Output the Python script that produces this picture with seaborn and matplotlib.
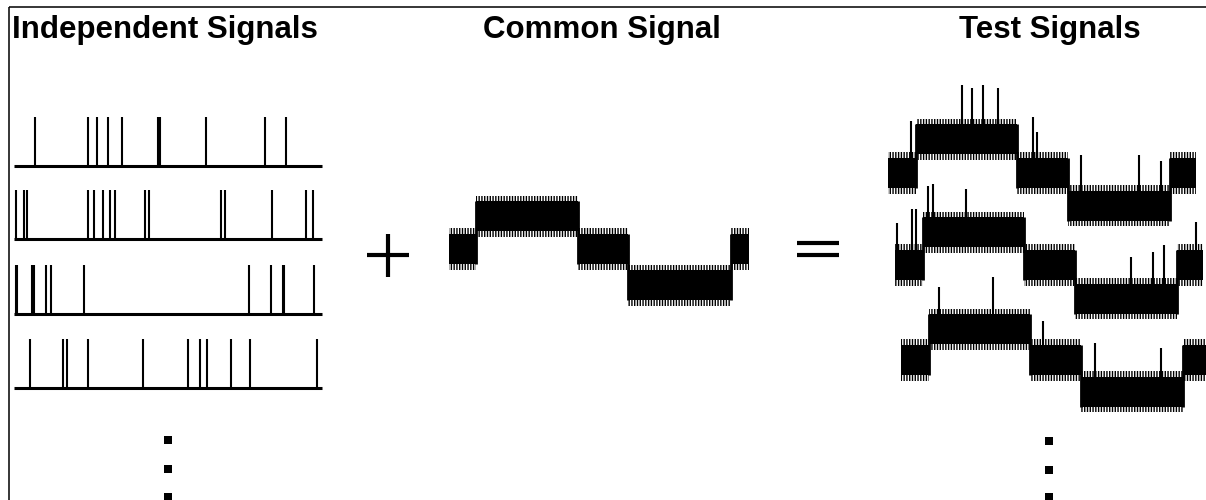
import numpy as np
import matplotlib
matplotlib.use("Agg")
import matplotlib.pyplot as plt
import seaborn as sns
import pandas as pd

# ---------------- data ----------------
# independent spike trains: spike times in samples, amplitude 1.0
indep_spikes_1 = [21, 74, 83, 94, 108, 144, 146, 192, 251, 272]
indep_spikes_2 = [2, 10, 13, 74, 80, 89, 96, 101, 131, 135, 207, 211, 258, 292, 299]
indep_spikes_3 = [2, 3, 18, 20, 32, 37, 70, 235, 257, 269, 270, 300]
indep_spikes_4 = [16, 49, 53, 74, 129, 174, 186, 193, 217, 236, 303]
indep_length = 308

# common signal: piecewise-constant level (segment edges in samples)
common_edges = [0, 27, 129, 179, 282, 300]
common_levels = [0.0, 0.67, 0.0, -0.74, 0.0]
noise_core = 0.31     # solid part of the noise band (half width)
noise_fringe = 0.42   # ragged fringe of the noise band (half width)

# test signals = common signal + spikes
test_edges = [0, 28, 129, 180, 282, 308]
test_levels_1 = [0.0, 0.69, 0.0, -0.67, 0.0]
test_levels_2 = [0.0, 0.67, 0.0, -0.69, 0.0]
test_levels_3 = [0.0, 0.63, 0.0, -0.65, 0.0]
test_spikes_1 = [23, 74, 84, 95, 110, 145, 149, 193, 251, 273]
test_heights_1 = [1.06, 1.10, 1.04, 1.10, 1.04, 1.15, 0.83, 1.04, 1.04, 0.92]
test_spikes_2 = [2, 17, 21, 33, 38, 71, 236, 258, 269, 301]
test_heights_2 = [0.85, 1.15, 1.15, 0.94, 0.98, 0.88, 0.85, 0.96, 1.10, 0.88]
test_spikes_3 = [38, 92, 142, 194, 260]
test_heights_3 = [0.85, 1.06, 0.79, 1.00, 0.90]

titles = ["Independent Signals", "Common Signal", "Test Signals"]

# ---------------- layout ----------------
W, H = 1206, 500
U = 49.0  # pixels per amplitude unit
sns.set_theme(style="white")
plt.rcParams["font.family"] = ["Liberation Sans", "DejaVu Sans"]
plt.rcParams["hatch.linewidth"] = 1.0
plt.rcParams["hatch.color"] = "black"

fig = plt.figure(figsize=(W / 100, H / 100), dpi=100)
fig.patch.set_facecolor("white")

overlay = fig.add_axes([0, 0, 1, 1])
overlay.set_xlim(0, W)
overlay.set_ylim(H, 0)
overlay.axis("off")


def panel(x0, y0, length, lo=-1.8, hi=2.4):
    """Axes whose data (t, v) maps to pixel (x0 + t, y0 - v*U)."""
    left = (x0 - 2) / W
    width = (length + 4) / W
    bottom = 1 - (y0 - lo * U) / H
    height = (hi - lo) * U / H
    ax = fig.add_axes([left, bottom, width, height])
    ax.set_xlim(-2, length + 2)
    ax.set_ylim(lo, hi)
    ax.axis("off")
    ax.patch.set_alpha(0)
    return ax


def step_level(edges, levels, t):
    idx = np.clip(np.searchsorted(edges, t, side="right") - 1, 0, len(levels) - 1)
    return np.asarray(levels)[idx]


def draw_band(ax, edges, levels, end):
    e = list(edges[:-1]) + [end]
    lv = np.asarray(list(levels) + [levels[-1]])
    # ragged fringe
    ax.fill_between(e, lv - noise_fringe, lv + noise_fringe, step="post",
                    facecolor="none", edgecolor="black", hatch="||||||", lw=0)
    # solid core
    ax.fill_between(e, lv - noise_core, lv + noise_core,
                    step="post", color="black", lw=0)
    # vertical joins at the transitions
    for k in range(1, len(levels)):
        a, b = levels[k - 1], levels[k]
        ax.vlines(edges[k], min(a, b) - noise_core, max(a, b) + noise_core,
                  color="black", lw=2.0)


# independent signals
indep_rows = [indep_spikes_1, indep_spikes_2, indep_spikes_3, indep_spikes_4]
indep_y0 = [166, 239, 314, 388]
for spikes, y0 in zip(indep_rows, indep_y0):
    ax = panel(14, y0, indep_length)
    base = pd.DataFrame({"t": [0, indep_length], "v": [0.0, 0.0]})
    sns.lineplot(data=base, x="t", y="v", ax=ax, color="black", lw=2.2,
                 solid_capstyle="butt", legend=False)
    ax.vlines(spikes, 0, 1.0, color="black", lw=1.5)
    ax.axis("off")

# common signal
axc = panel(449, 249, common_edges[-1])
draw_band(axc, common_edges, common_levels, common_edges[-1])

# test signals
test_rows = [(888, 173, test_levels_1, test_spikes_1, test_heights_1),
             (895, 265, test_levels_2, test_spikes_2, test_heights_2),
             (901, 360, test_levels_3, test_spikes_3, test_heights_3)]
for x0, y0, levels, spikes, heights in test_rows:
    ax = panel(x0, y0, test_edges[-1])
    draw_band(ax, test_edges, levels, test_edges[-1])
    base = step_level(test_edges, levels, np.asarray(spikes))
    ax.vlines(spikes, base, base + np.asarray(heights), color="black", lw=1.5,
              clip_on=False)

# frame lines (top and left only)
overlay.plot([9, 9], [7, H], color="black", lw=1.1, solid_capstyle="butt")
overlay.plot([9, W], [7, 7], color="black", lw=1.1, solid_capstyle="butt")

# plus and equals signs
overlay.plot([367, 409], [255, 255], color="black", lw=3.0, solid_capstyle="butt")
overlay.plot([388, 388], [234, 277], color="black", lw=3.0, solid_capstyle="butt")
overlay.plot([797, 839], [243, 243], color="black", lw=3.0, solid_capstyle="butt")
overlay.plot([797, 839], [255, 255], color="black", lw=3.0, solid_capstyle="butt")

# vertical ellipsis dots
overlay.scatter([168, 168, 168], [440, 469, 497], marker="s", s=28, color="black", lw=0)
overlay.scatter([1049, 1049, 1049], [441, 470, 497], marker="s", s=28, color="black", lw=0)

# titles
title_kw = dict(fontsize=22.5, fontweight="bold", va="baseline", color="black")
overlay.text(12, 38, titles[0], ha="left", **title_kw)
overlay.text(602, 38, titles[1], ha="center", **title_kw)
overlay.text(1050, 38, titles[2], ha="center", **title_kw)

fig.savefig("out.png", dpi=100, facecolor="white")
